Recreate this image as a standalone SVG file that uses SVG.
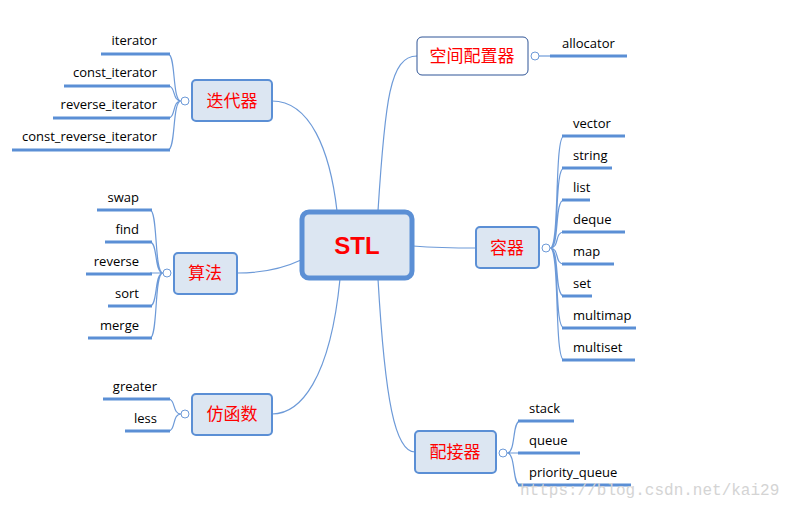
<svg xmlns="http://www.w3.org/2000/svg" width="801" height="508" viewBox="0 0 801 508">
<style>
.n{fill:#dce6f2;stroke:#5b8fd5;stroke-width:2}
.t{font-family:"Noto Sans CJK SC","Liberation Sans",sans-serif;font-size:17px;fill:#ff0000;text-anchor:middle}
.l{font-family:"Open Sans","Liberation Sans",sans-serif;font-size:13px;fill:#000}
.r{text-anchor:end}
.u{stroke:#5b8fd5;stroke-width:3;fill:none}
.c{stroke:#6d9ad8;stroke-width:1.2;fill:none}
.o{fill:#fff;stroke:#6d9ad8;stroke-width:1}
</style>
<rect width="801" height="508" fill="#fff"/>
<g id="connectors">
<path class="c" d="M337,211 C330,150 310,101 272,101"/>
<path class="c" d="M378,211 C385,100 390,56 417,56"/>
<path class="c" d="M301,260 C280,270 260,273 237,273"/>
<path class="c" d="M340,279 C330,380 300,414 272,414"/>
<path class="c" d="M413,246 C440,248 450,248 476,248"/>
<path class="c" d="M378,279 C385,400 395,452 415,452"/>
<path class="c" d="M181,101 C172,101 176,54 168,54 M181,101 C172,101 176,86 168,86 M181,101 C172,101 176,118 168,118 M181,101 C172,101 176,150 168,150"/>
<path class="u" d="M101,54H170 M64,86H170 M53,118H170 M12,150H170"/>
<path class="c" d="M163,273 C154,273 158,210 150,210 M163,273 C154,273 158,242 150,242 M163,273 H150 M163,273 C154,273 158,306 150,306 M163,273 C154,273 158,338 150,338"/>
<path class="u" d="M97,210H152 M105,242H152 M86,274H152 M108,306H152 M88,338H152"/>
<path class="c" d="M181,414 C172,414 176,399 168,399 M181,414 C172,414 176,431 168,431"/>
<path class="u" d="M103,399H170 M125,431H170"/>
<path class="c" d="M539,56H552"/>
<path class="u" d="M550,56H627"/>
<path class="c" d="M550,248 C560,248 554,136 564,136 M550,248 C560,248 554,168 564,168 M550,248 C560,248 554,200 564,200 M550,248 C560,248 554,232 564,232 M550,248 C560,248 554,264 564,264 M550,248 C560,248 554,296 564,296 M550,248 C560,248 554,328 564,328 M550,248 C560,248 554,360 564,360"/>
<path class="u" d="M562,136H625 M562,168H612 M562,200H590 M562,232H625 M562,264H614 M562,296H592 M562,328H636 M562,360H635"/>
<path class="c" d="M507,453 C516,453 512,421 520,421 M507,453 H520 M507,453 C516,453 512,485 520,485"/>
<path class="u" d="M518,421H574 M518,453H580 M518,485H631"/>
<circle class="o" cx="185" cy="101" r="4"/>
<circle class="o" cx="167" cy="273" r="4"/>
<circle class="o" cx="185" cy="414" r="4"/>
<circle class="o" cx="535" cy="56" r="4"/>
<circle class="o" cx="546" cy="248" r="4"/>
<circle class="o" cx="503" cy="453" r="4"/>
</g>
<g id="stl"><rect x="302" y="212" width="110" height="66" rx="7" fill="#dce6f2" stroke="#5b8fd5" stroke-width="5"/>
<text x="357" y="254" style="font-family:'Liberation Sans',sans-serif;font-size:24px;font-weight:bold;fill:#ff0000;text-anchor:middle">STL</text></g>
<g id="allocator-node"><rect x="417" y="37" width="111" height="38" rx="5" fill="#fff" stroke="#2f5597" stroke-width="1"/><text class="t" x="472" y="62">空间配置器</text></g>
<g id="iterator-node"><rect class="n" x="192" y="80" width="80" height="41" rx="4"/><text class="t" x="232" y="107">迭代器</text></g>
<g id="algorithm-node"><rect class="n" x="174" y="253" width="63" height="41" rx="4"/><text class="t" x="205" y="279">算法</text></g>
<g id="functor-node"><rect class="n" x="192" y="394" width="80" height="41" rx="4"/><text class="t" x="232" y="420">仿函数</text></g>
<g id="container-node"><rect class="n" x="476" y="227" width="63" height="41" rx="4"/><text class="t" x="507" y="254">容器</text></g>
<g id="adapter-node"><rect class="n" x="415" y="431" width="81" height="42" rx="4"/><text class="t" x="455" y="458">配接器</text></g>
<g id="labels">
<text class="l r" x="157" y="45">iterator</text>
<text class="l r" x="157" y="77">const_iterator</text>
<text class="l r" x="157" y="109">reverse_iterator</text>
<text class="l r" x="157" y="141">const_reverse_iterator</text>
<text class="l r" x="139" y="202">swap</text>
<text class="l r" x="139" y="234">find</text>
<text class="l r" x="139" y="266">reverse</text>
<text class="l r" x="139" y="298">sort</text>
<text class="l r" x="139" y="330">merge</text>
<text class="l r" x="157" y="391">greater</text>
<text class="l r" x="157" y="423">less</text>
<text class="l" x="562" y="48">allocator</text>
<text class="l" x="573" y="128">vector</text>
<text class="l" x="573" y="160">string</text>
<text class="l" x="573" y="192">list</text>
<text class="l" x="573" y="224">deque</text>
<text class="l" x="573" y="256">map</text>
<text class="l" x="573" y="288">set</text>
<text class="l" x="573" y="320">multimap</text>
<text class="l" x="573" y="352">multiset</text>
<text class="l" x="529" y="413">stack</text>
<text class="l" x="529" y="445">queue</text>
<text class="l" x="529" y="477">priority_queue</text>
</g>
<text x="520" y="495" style="font-family:'Liberation Mono',monospace;font-size:16px;fill:#d4d4d4">https://blog.csdn.net/kai29</text>
</svg>
